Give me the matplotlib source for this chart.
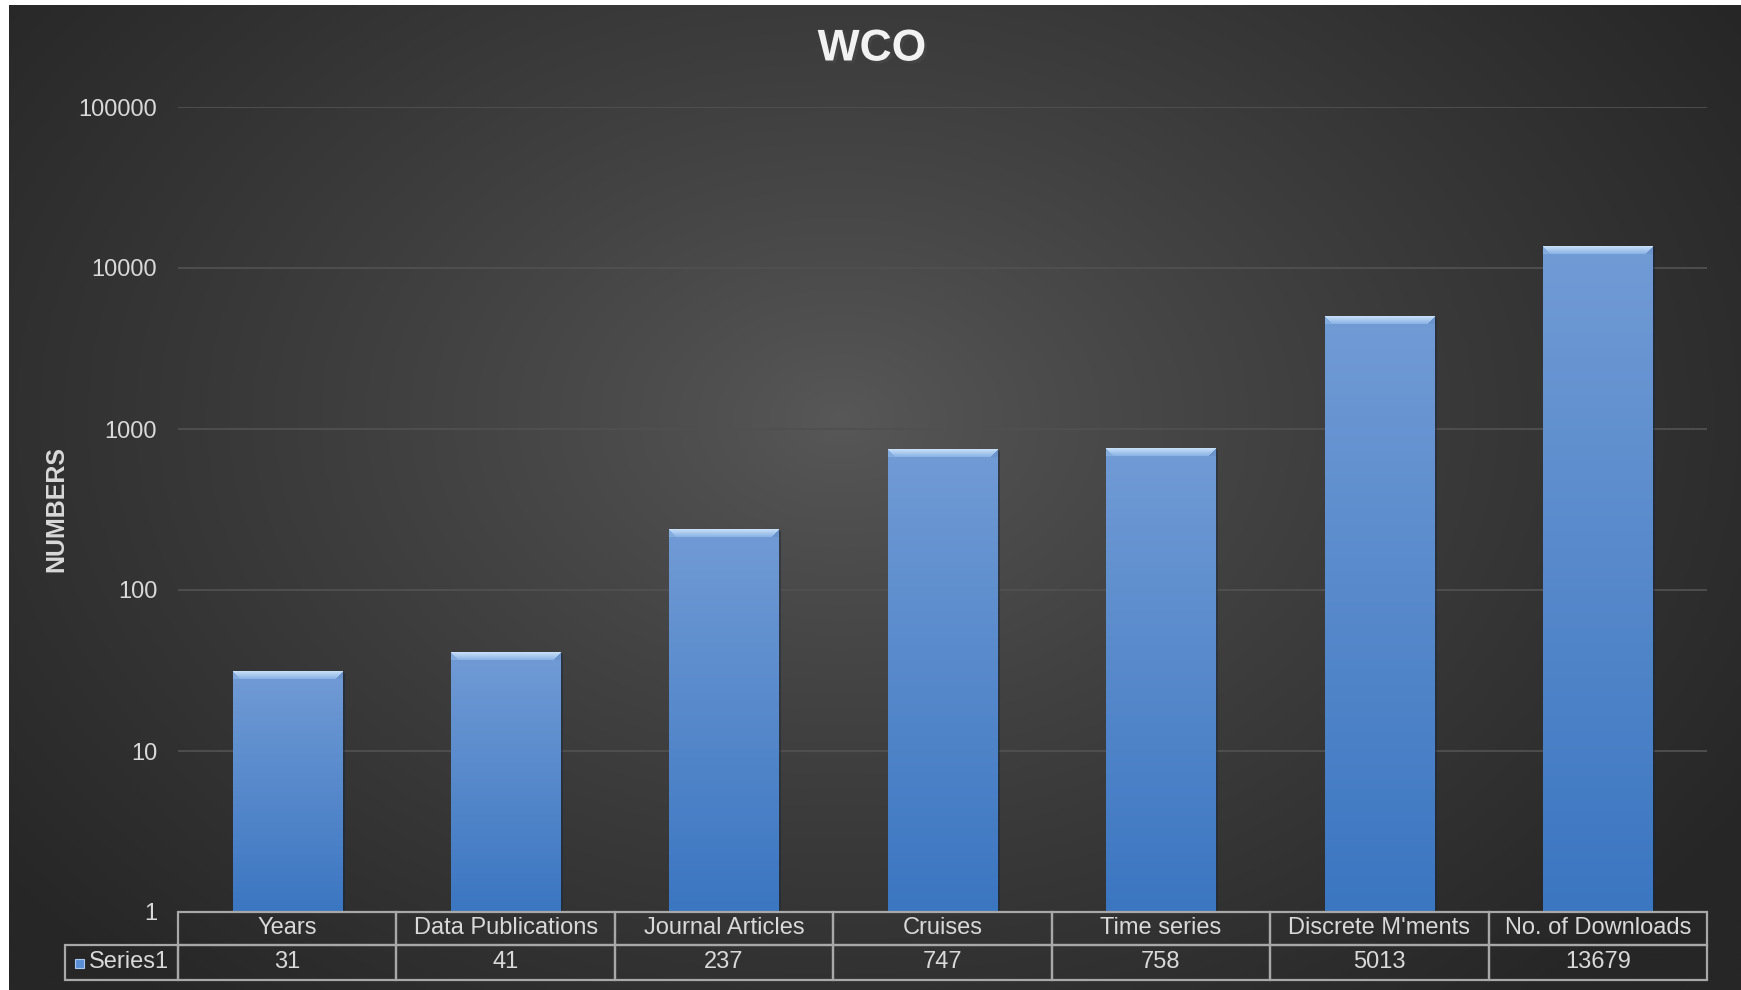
import numpy as np
import matplotlib
matplotlib.use("Agg")
import matplotlib.pyplot as plt
import matplotlib.patheffects as pe
from matplotlib.colors import to_rgb
from matplotlib.patches import Rectangle
from matplotlib.ticker import NullLocator
from matplotlib.transforms import Bbox, TransformedBbox, BboxTransformTo

plt.rcParams["font.family"] = ["Liberation Sans", "DejaVu Sans"]

# ── Data ───────────────────────────────────────────────────────────────────────
CATEGORIES = ["Years", "Data Publications", "Journal Articles", "Cruises",
              "Time series", "Discrete M'ments", "No. of Downloads"]
VALUES = [31, 41, 237, 747, 758, 5013, 13679]
SERIES = "Series1"
Y_TICKS = [1, 10, 100, 1000, 10000, 100000]
TITLE = "WCO"
YLABEL = "NUMBERS"

TXT = "#d9d9d9"
W, H = 1741, 990

fig = plt.figure(figsize=(W / 100, H / 100), dpi=100, facecolor="white")

# ── Radial background ──────────────────────────────────────────────────────────
bg = fig.add_axes([9 / W, 0, 1 - 9 / W, 1 - 5 / H], zorder=-10)
bg.set_axis_off()
yy, xx = np.mgrid[0:1:400j, 0:1:700j]
d = np.clip(np.sqrt(((xx - 0.48) / 0.62) ** 2 + ((yy - 0.42) / 0.78) ** 2), 0, 1)
c_in, c_out = np.array(to_rgb("#585858")), np.array(to_rgb("#262626"))
bg.imshow(c_in + (c_out - c_in) * d[..., None] ** 0.85, aspect="auto",
          extent=[0, 1, 0, 1])

# ── Main axes ──────────────────────────────────────────────────────────────────
ax_w_px, ax_h_px = 1707 - 178, 912 - 107
ax = fig.add_axes([178 / W, 1 - 912 / H, ax_w_px / W, ax_h_px / H])
ax.set_facecolor("none")
ax.set_yscale("log")
ax.set_ylim(1, 100000)
ax.set_xlim(-0.5, len(CATEGORIES) - 0.5)
ax.set_yticks(Y_TICKS)
ax.set_yticklabels([str(t) for t in Y_TICKS])
ax.yaxis.set_minor_locator(NullLocator())
ax.tick_params(axis="y", length=0, pad=15, labelsize=17, labelcolor=TXT)
ax.set_xticks([])
for s in ax.spines.values():
    s.set_visible(False)
ax.grid(axis="y", color="#505050", lw=1.3)
ax.set_axisbelow(True)

# ── Bars with gradient + bevel ─────────────────────────────────────────────────
x = np.arange(len(CATEGORIES))
bw = 0.5
bars = ax.bar(x, VALUES, bw, color="#4a80c8", zorder=2,
              path_effects=[pe.SimplePatchShadow(offset=(2, -1), alpha=0.45),
                            pe.Normal()])

top_c, bot_c = np.array(to_rgb("#719bd5")), np.array(to_rgb("#3b76c1"))
bev_top, bev_bot = np.array(to_rgb("#c6def8")), np.array(to_rgb("#8cb4e6"))
side_l, side_r = np.array(to_rgb("#85acdf")), np.array(to_rgb("#6b94cd"))
for xi, v in zip(x, VALUES):
    x0, x1 = xi - bw / 2, xi + bw / 2
    p0 = ax.transData.transform((x0, 1))
    p1 = ax.transData.transform((x1, v))
    hp = max(int(round(p1[1] - p0[1])), 10)
    wp = max(int(round(p1[0] - p0[0])), 10)
    t = np.linspace(0, 1, hp)[:, None, None]
    arr = np.repeat(top_c + (bot_c - top_c) * t, wp, axis=1)
    b = 8
    for i in range(b):
        arr[i, :, :] = bev_top + (bev_bot - bev_top) * i / (b - 1)
        arr[i, :i, :] = side_l
        arr[i, wp - i:, :] = side_r
    tr = BboxTransformTo(TransformedBbox(Bbox.from_extents(x0, 1, x1, v), ax.transData))
    ax.imshow(arr, extent=[0, 1, 0, 1], transform=tr, aspect="auto",
              interpolation="nearest", zorder=3)

# ── Data table under the axis (drawn in axes coordinates) ──────────────────────
row1 = 33 / ax_h_px   # header row height
row2 = 35 / ax_h_px   # value row height
lab_w = 113 / ax_w_px
cw = 1 / len(CATEGORIES)
edge = dict(facecolor="none", edgecolor="#a8a8a8", lw=1.6,
            transform=ax.transAxes, clip_on=False, zorder=5)
txt = dict(transform=ax.transAxes, clip_on=False, fontsize=17, color=TXT,
           va="center", zorder=6)
for j, cat in enumerate(CATEGORIES):
    ax.add_patch(Rectangle((j * cw, -row1), cw, row1, **edge))
    ax.add_patch(Rectangle((j * cw, -row1 - row2), cw, row2, **edge))
    ax.text((j + 0.5) * cw, -row1 / 2, cat, ha="center", **txt)
    ax.text((j + 0.5) * cw, -row1 - row2 / 2, str(VALUES[j]), ha="center", **txt)
ax.add_patch(Rectangle((-lab_w, -row1 - row2), lab_w, row2, **edge))
ax.text(-9 / ax_w_px, -row1 - row2 / 2, SERIES, ha="right", **txt)

# legend key in the row-label cell
fig.patches.append(Rectangle((75 / W, 1 - 968 / H), 9 / W, 9 / H,
                             transform=fig.transFigure, facecolor="#5a8fd6",
                             edgecolor="#a9c8ef", lw=0.8))

# ── Titles ─────────────────────────────────────────────────────────────────────
fig.text(872 / W, 1 - 49 / H, TITLE, ha="center", va="center", fontsize=32,
         fontweight="bold", color="#f2f2f2",
         path_effects=[pe.SimplePatchShadow(offset=(2, -2), alpha=0.6), pe.Normal()])
fig.text(56 / W, 1 - 509 / H, YLABEL, ha="center", va="center", rotation=90,
         fontsize=18, fontweight="bold", color=TXT)

fig.savefig("out.png", dpi=100, facecolor=fig.get_facecolor())
